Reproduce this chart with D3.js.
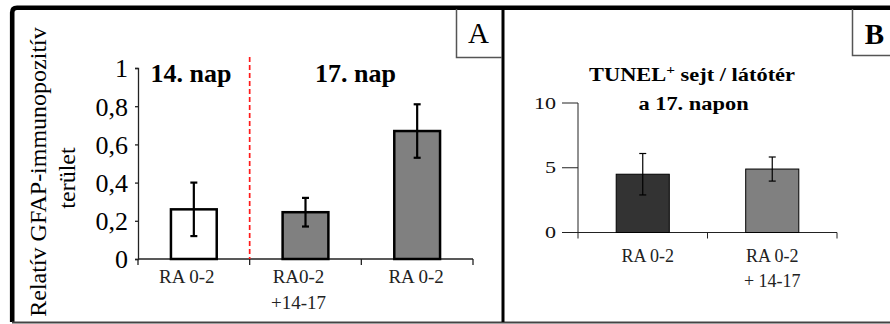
<!DOCTYPE html>
<html>
<head>
<meta charset="utf-8">
<script src="https://cdn.jsdelivr.net/npm/d3@7"></script>
<style>
  html, body { margin: 0; padding: 0; background: #fff; }
  svg { display: block; }
</style>
</head>
<body>
<svg id="fig" width="890" height="324"></svg>
<script>
// Panel A: relative GFAP-immunopositive area
const catsA = ["a1", "a2", "a3"];
const labelsA = [["RA 0-2"], ["RA0-2", "+14-17"], ["RA 0-2"]];
const valuesA = [0.26, 0.245, 0.67];
const errorsA = [0.14, 0.075, 0.14];
const fillsA = ["#ffffff", "#808080", "#808080"];
const ticksA = [0, 0.2, 0.4, 0.6, 0.8, 1];

// Panel B: TUNEL+ cells per field of view on day 17
const catsB = ["b1", "b2"];
const labelsB = [["RA 0-2"], ["RA 0-2", "+ 14-17"]];
const valuesB = [4.5, 4.9];
const errorsB = [1.6, 0.93];
const fillsB = ["#333333", "#808080"];
const ticksB = [0, 5, 10];

const SERIF = "'Liberation Serif', 'Times New Roman', 'DejaVu Serif', serif";
const svg = d3.select("#fig");
const fmtA = v => (v === 0 || v === 1) ? String(v) : String(v).replace(".", ",");

// text helper: always set the serif face inline
function txt(g, s) {
  return g.append("text").style("font-family", SERIF).text(s);
}

// ---------- frame ----------
svg.append("path")
  .attr("d", "M890,7.8 H17 Q12.2,7.8 12.2,12.6 V322")
  .attr("fill", "none").attr("stroke", "#000").attr("stroke-width", 4.6);
svg.append("line").attr("x1", 12).attr("x2", 890).attr("y1", 322.5).attr("y2", 322.5)
  .attr("stroke", "#444").attr("stroke-width", 2);
svg.append("line").attr("x1", 503).attr("x2", 503).attr("y1", 8).attr("y2", 322)
  .attr("stroke", "#000").attr("stroke-width", 3);

// panel letters
svg.append("path").attr("d", "M456.5,9 V57.5 H502")
  .attr("fill", "none").attr("stroke", "#555").attr("stroke-width", 1.5);
txt(svg, "A").attr("x", 478.5).attr("y", 43).attr("text-anchor", "middle")
  .attr("font-size", 29).attr("fill", "#000");
svg.append("path").attr("d", "M852.5,9 V55.5 H890")
  .attr("fill", "none").attr("stroke", "#555").attr("stroke-width", 1.5);
txt(svg, "B").attr("x", 874.5).attr("y", 44).attr("text-anchor", "middle")
  .attr("font-size", 29).attr("font-weight", "bold").attr("fill", "#000");

// ---------- panel A ----------
const xA = d3.scaleBand().domain(catsA).range([138, 473]).paddingInner(0.59).paddingOuter(0.295);
const yA = d3.scaleLinear().domain([0, 1]).range([259, 68]);
const gA = svg.append("g");

// y axis
const yAxisA = d3.axisLeft(yA).tickValues(ticksA).tickFormat(fmtA).tickSize(3).tickPadding(7);
const ya = gA.append("g").attr("transform", "translate(138,0)").call(yAxisA);
ya.select(".domain").attr("stroke", "#222").attr("stroke-width", 1.3);
ya.selectAll(".tick line").attr("stroke", "#222").attr("stroke-width", 1.3);
ya.selectAll(".tick text").style("font-family", SERIF)
  .attr("font-size", 26).attr("fill", "#000").attr("dy", "0.34em");

// x axis with boundary ticks
const xa = gA.append("g");
xa.append("line").attr("x1", 138).attr("x2", 473).attr("y1", yA(0)).attr("y2", yA(0))
  .attr("stroke", "#222").attr("stroke-width", 1.3);
const boundsA = [xA.range()[0]].concat(catsA.map(c => xA(c) + xA.bandwidth() / 2 + xA.step() / 2));
xa.selectAll(".xt").data(boundsA).join("line")
  .attr("x1", d => d).attr("x2", d => d).attr("y1", yA(0)).attr("y2", yA(0) + 6)
  .attr("stroke", "#222").attr("stroke-width", 1.3);

// separator between day 14 and day 17
gA.append("line").attr("x1", boundsA[1]).attr("x2", boundsA[1]).attr("y1", 57).attr("y2", yA(0))
  .attr("stroke", "#ff1a1a").attr("stroke-width", 1.7).attr("stroke-dasharray", "5,3");

// bars
gA.selectAll(".bar").data(catsA).join("rect")
  .attr("x", d => xA(d)).attr("width", xA.bandwidth())
  .attr("y", (d, i) => yA(valuesA[i])).attr("height", (d, i) => yA(0) - yA(valuesA[i]))
  .attr("fill", (d, i) => fillsA[i]).attr("stroke", "#000").attr("stroke-width", 2.5);

// error bars
catsA.forEach((c, i) => {
  const cx = xA(c) + xA.bandwidth() / 2;
  const top = yA(valuesA[i] + errorsA[i]), bot = yA(valuesA[i] - errorsA[i]);
  gA.append("line").attr("x1", cx).attr("x2", cx).attr("y1", top).attr("y2", bot)
    .attr("stroke", "#000").attr("stroke-width", 2.2);
  [top, bot].forEach(yy => gA.append("line").attr("x1", cx - 3.5).attr("x2", cx + 3.5)
    .attr("y1", yy).attr("y2", yy).attr("stroke", "#000").attr("stroke-width", 2.2));
});

// category labels
catsA.forEach((c, i) => {
  const cx = xA(c) + xA.bandwidth() / 2 - (i < 2 ? 7 : 1);
  labelsA[i].forEach((t, j) => txt(gA, t).attr("x", cx).attr("y", 283 + j * 26)
    .attr("text-anchor", "middle").attr("font-size", 19).attr("fill", "#222"));
});

// day headings
txt(gA, "14. nap").attr("x", 191).attr("y", 82).attr("text-anchor", "middle")
  .attr("font-size", 26).attr("font-weight", "bold").attr("fill", "#000");
txt(gA, "17. nap").attr("x", 355.5).attr("y", 82).attr("text-anchor", "middle")
  .attr("font-size", 26).attr("font-weight", "bold").attr("fill", "#000");

// y title
txt(gA, "Relatív GFAP-immunopozitív").attr("transform", "translate(46,172) rotate(-90)")
  .attr("text-anchor", "middle").attr("font-size", 24).attr("fill", "#000");
txt(gA, "terület").attr("transform", "translate(75,178) rotate(-90)")
  .attr("text-anchor", "middle").attr("font-size", 24).attr("fill", "#000");

// ---------- panel B ----------
const xB = d3.scaleBand().domain(catsB).range([578, 837]).paddingInner(0.59).paddingOuter(0.295);
const yB = d3.scaleLinear().domain([0, 10]).range([232.5, 103]);
const gB = svg.append("g");

gB.append("line").attr("x1", 578).attr("x2", 578).attr("y1", yB(10)).attr("y2", yB(0))
  .attr("stroke", "#222").attr("stroke-width", 1);
gB.append("line").attr("x1", 578).attr("x2", 837).attr("y1", yB(0)).attr("y2", yB(0))
  .attr("stroke", "#222").attr("stroke-width", 1);
ticksB.forEach(t => {
  gB.append("line").attr("x1", 562).attr("x2", 578).attr("y1", yB(t)).attr("y2", yB(t))
    .attr("stroke", "#222").attr("stroke-width", 1);
  txt(gB, t).attr("transform", `translate(556,${yB(t) + 5.5}) scale(1.3,1)`)
    .attr("text-anchor", "end").attr("font-size", 17).attr("fill", "#111");
});
const boundsB = [xB.range()[0]].concat(catsB.map(c => xB(c) + xB.bandwidth() / 2 + xB.step() / 2));
boundsB.forEach(b => gB.append("line").attr("x1", b).attr("x2", b)
  .attr("y1", yB(0)).attr("y2", yB(0) + 6).attr("stroke", "#222").attr("stroke-width", 1));

gB.selectAll(".bar").data(catsB).join("rect")
  .attr("x", d => xB(d)).attr("width", xB.bandwidth())
  .attr("y", (d, i) => yB(valuesB[i])).attr("height", (d, i) => yB(0) - yB(valuesB[i]))
  .attr("fill", (d, i) => fillsB[i]).attr("stroke", "#000").attr("stroke-width", 1);

catsB.forEach((c, i) => {
  const cx = xB(c) + xB.bandwidth() / 2;
  const top = yB(valuesB[i] + errorsB[i]), bot = yB(valuesB[i] - errorsB[i]);
  gB.append("line").attr("x1", cx).attr("x2", cx).attr("y1", top).attr("y2", bot)
    .attr("stroke", "#000").attr("stroke-width", 1.2);
  [top, bot].forEach(yy => gB.append("line").attr("x1", cx - 3.5).attr("x2", cx + 3.5)
    .attr("y1", yy).attr("y2", yy).attr("stroke", "#000").attr("stroke-width", 1.2));
});

catsB.forEach((c, i) => {
  const cx = xB(c) + xB.bandwidth() / 2 + (i === 0 ? 5 : 0);
  labelsB[i].forEach((t, j) => txt(gB, t).attr("x", cx).attr("y", 262 + j * 25)
    .attr("text-anchor", "middle").attr("font-size", 18).attr("fill", "#222"));
});

// panel B title
const t1 = gB.append("text").style("font-family", SERIF)
  .attr("transform", "translate(692,81) scale(1.18,1)")
  .attr("text-anchor", "middle").attr("font-size", 19).attr("font-weight", "bold").attr("fill", "#000");
t1.append("tspan").text("TUNEL");
t1.append("tspan").attr("font-size", 13).attr("dy", -7).text("+");
t1.append("tspan").attr("dy", 7).text(" sejt / látótér");
txt(gB, "a 17. napon").attr("transform", "translate(693.5,110) scale(1.18,1)")
  .attr("text-anchor", "middle").attr("font-size", 19).attr("font-weight", "bold").attr("fill", "#000");
</script>
</body>
</html>
